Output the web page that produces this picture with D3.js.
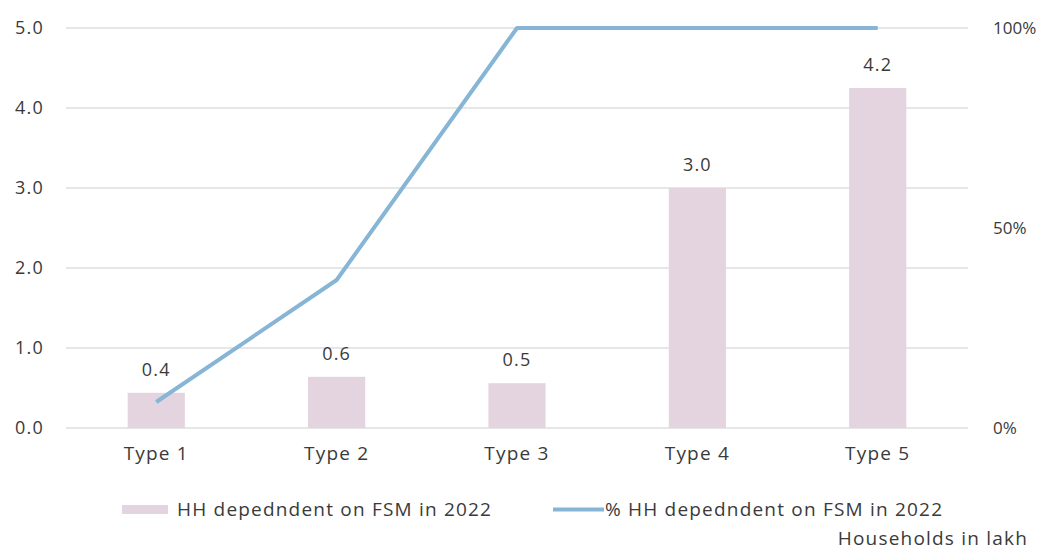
<!DOCTYPE html>
<html><head><meta charset="utf-8">
<script src="https://cdn.jsdelivr.net/npm/d3@7"></script>
<style>body{margin:0;background:#fff}svg text{font-family:"Open Sans",Lato,sans-serif;fill:#3a3a3a}</style>
</head><body><svg id="c" width="1045" height="552"></svg>
<script>
const categories = ["Type 1","Type 2","Type 3","Type 4","Type 5"];
const hhValues = [0.44, 0.64, 0.56, 3.0, 4.25];
const hhLabels = ["0.4","0.6","0.5","3.0","4.2"];
const pctValues = [0.065, 0.37, 1.0, 1.0, 1.0];
const leftTicks = [0,1,2,3,4,5];
const rightTicks = [0,0.5,1];

const svg = d3.select("#c");
const L=66,R=968,T=28,B=428;
const FS=19, LS=1.2;
const x = d3.scaleBand().domain(categories).range([L,R]).paddingInner(0.683).paddingOuter(0.342);
const y = d3.scaleLinear().domain([0,5]).range([B,T]);
const y2 = d3.scaleLinear().domain([0,1]).range([B,T]);

svg.append("g").selectAll("line").data(leftTicks).join("line")
  .attr("x1",L).attr("x2",R).attr("y1",d=>y(d)).attr("y2",d=>y(d))
  .attr("stroke","#dedede").attr("stroke-width",1.5);

const la = svg.append("g").attr("transform",`translate(${L-19},0)`)
  .call(d3.axisLeft(y).tickValues(leftTicks).tickFormat(d3.format(".1f")).tickSize(0));
la.select(".domain").remove();
la.selectAll("text").attr("font-size",18).attr("fill","#444").attr("font-family","Open Sans").attr("letter-spacing",LS);

const ra = svg.append("g").attr("transform",`translate(${R+22},0)`)
  .call(d3.axisRight(y2).tickValues(rightTicks).tickFormat(d3.format(".0%")).tickSize(0));
ra.select(".domain").remove();
ra.selectAll("text").attr("font-size",17).attr("fill","#444").attr("font-family","Open Sans");

svg.append("g").selectAll("rect").data(categories).join("rect")
  .attr("x",d=>x(d)).attr("width",x.bandwidth())
  .attr("y",(d,i)=>y(hhValues[i])).attr("height",(d,i)=>B-y(hhValues[i]))
  .attr("fill","#e4d4df");

svg.append("g").selectAll("text").data(categories).join("text")
  .attr("x",d=>x(d)+x.bandwidth()/2).attr("y",(d,i)=>y(hhValues[i])-17)
  .attr("text-anchor","middle").attr("font-size",18).attr("letter-spacing",LS).text((d,i)=>hhLabels[i]);

const ba = svg.append("g").attr("transform",`translate(0,${B+13})`)
  .call(d3.axisBottom(x).tickSize(0));
ba.select(".domain").remove();
ba.selectAll("text").attr("font-size",FS).attr("fill","#3a3a3a").attr("font-family","Open Sans").attr("letter-spacing",LS).attr("dy","0.85em");

const line = d3.line().x((d,i)=>x(categories[i])+x.bandwidth()/2).y(d=>y2(d));
svg.append("path").datum(pctValues).attr("d",line)
  .attr("fill","none").attr("stroke","#86b5d6").attr("stroke-width",4).attr("stroke-linejoin","round");

// legend
svg.append("rect").attr("x",122).attr("y",505).attr("width",46).attr("height",9).attr("fill","#e4d4df");
svg.append("text").attr("x",177).attr("y",516).attr("font-size",FS).attr("letter-spacing",LS).text("HH depedndent on FSM in 2022");
svg.append("line").attr("x1",553).attr("x2",604).attr("y1",509.5).attr("y2",509.5).attr("stroke","#86b5d6").attr("stroke-width",4);
svg.append("text").attr("x",605).attr("y",516).attr("font-size",FS).attr("letter-spacing",LS).text("% HH depedndent on FSM in 2022");
svg.append("text").attr("x",1028).attr("y",545).attr("text-anchor","end").attr("font-size",FS).attr("letter-spacing",LS).text("Households in lakh");
</script></body></html>
